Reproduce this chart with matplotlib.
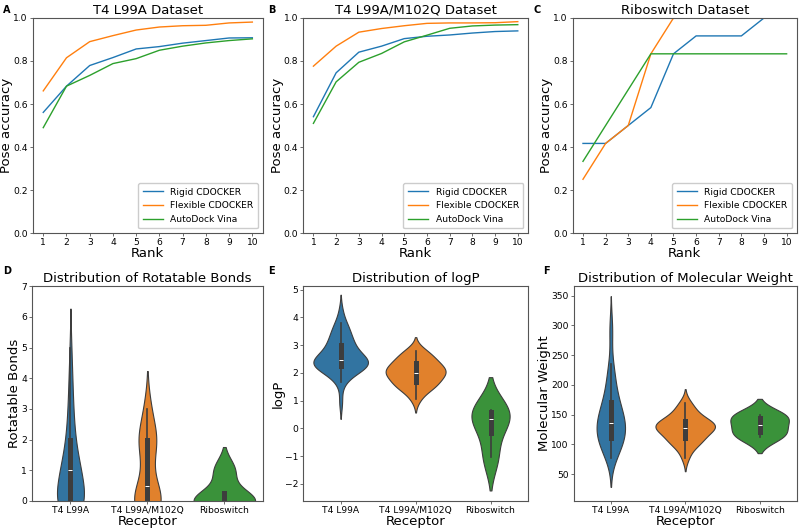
import matplotlib
matplotlib.use('Agg')
import matplotlib.pyplot as plt
import pandas as pd
import seaborn as sns

ranks = [1, 2, 3, 4, 5, 6, 7, 8, 9, 10]
methods = ['Rigid CDOCKER', 'Flexible CDOCKER', 'AutoDock Vina']
receptors = ['T4 L99A', 'T4 L99A/M102Q', 'Riboswitch']

# pose accuracy per rank
l99a_rigid = [0.561, 0.683, 0.779, 0.816, 0.856, 0.867, 0.883, 0.895, 0.907, 0.908]
l99a_flex = [0.661, 0.815, 0.890, 0.918, 0.944, 0.958, 0.964, 0.966, 0.977, 0.981]
l99a_vina = [0.490, 0.683, 0.733, 0.788, 0.811, 0.850, 0.869, 0.884, 0.895, 0.903]

m102q_rigid = [0.541, 0.745, 0.841, 0.869, 0.904, 0.915, 0.921, 0.930, 0.937, 0.940]
m102q_flex = [0.776, 0.869, 0.934, 0.951, 0.964, 0.975, 0.977, 0.977, 0.978, 0.983]
m102q_vina = [0.510, 0.703, 0.794, 0.835, 0.889, 0.920, 0.952, 0.963, 0.967, 0.969]

ribo_rigid = [5/12, 5/12, 6/12, 7/12, 10/12, 11/12, 11/12, 11/12, 1.0, 1.0]
ribo_flex = [3/12, 5/12, 6/12, 10/12, 1.0, 1.0, 1.0, 1.0, 1.0, 1.0]
ribo_vina = [4/12, 6/12, 8/12, 10/12, 10/12, 10/12, 10/12, 10/12, 10/12, 10/12]

# ligand properties
rotb_l99a = [0]*18 + [1]*11 + [2, 2, 2, 2, 2, 3, 3, 3, 4, 4, 5]
rotb_m102q = [0]*10 + [1]*2 + [2]*6 + [3]*2
rotb_ribo = [0, 0, 0, 1]

logp_l99a = [0.95, 1.65, 1.8, 1.95, 2.05, 2.1, 2.15, 2.18, 2.2, 2.22, 2.25, 2.28, 2.3, 2.32,
             2.35, 2.38, 2.4, 2.4, 2.42, 2.45, 2.48, 2.5, 2.55, 2.6, 2.65, 2.7, 2.8, 2.9,
             2.95, 3.0, 3.05, 3.1, 3.2, 3.3, 3.4, 3.5, 3.6, 3.7, 3.8, 4.2]
logp_m102q = [1.05, 1.3, 1.45, 1.5, 1.55, 1.6, 1.65, 1.75, 1.85, 1.9, 1.95, 2.0, 2.0, 2.05,
              2.1, 2.15, 2.2, 2.25, 2.35, 2.4, 2.45, 2.55, 2.65, 2.75, 2.8]
logp_ribo = [-1.05, 0.12, 0.58, 0.65]

mw_l99a = [78, 82, 88, 93, 97, 100, 103, 105, 108, 110, 112, 115, 118, 122, 125, 128, 131,
           133, 135, 135, 137, 140, 143, 146, 150, 154, 158, 162, 166, 170, 174, 180, 188,
           196, 205, 215, 225, 235, 285, 300]
mw_m102q = [78, 92, 100, 104, 107, 109, 110, 116, 122, 125, 127, 128, 128, 130, 131, 133,
            134, 136, 140, 142, 145, 150, 157, 163, 170]
mw_ribo = [112, 123, 143, 150]

line_colors = ['#1f77b4', '#ff7f0e', '#2ca02c']
spine_col = '#555555'


def long_table(a, b, c):
    rows = [(receptors[0], v) for v in a] + [(receptors[1], v) for v in b] + \
           [(receptors[2], v) for v in c]
    return pd.DataFrame(rows, columns=['Receptor', 'value'])


def style_axes(ax):
    ax.tick_params(labelsize=6.6, length=2, width=0.6, pad=1.5, color=spine_col)
    for s in ax.spines.values():
        s.set_linewidth(0.8)
        s.set_color(spine_col)


fig = plt.figure(figsize=(8, 5.29), dpi=100)

top_axes = [fig.add_axes([0.041, 0.5595, 0.2875, 0.4065]),
            fig.add_axes([0.379, 0.5595, 0.281, 0.4065]),
            fig.add_axes([0.716, 0.5595, 0.280, 0.4065])]
bot_axes = [fig.add_axes([0.040, 0.053, 0.2885, 0.406]),
            fig.add_axes([0.379, 0.053, 0.281, 0.406]),
            fig.add_axes([0.717, 0.053, 0.279, 0.406])]

line_sets = [(l99a_rigid, l99a_flex, l99a_vina),
             (m102q_rigid, m102q_flex, m102q_vina),
             (ribo_rigid, ribo_flex, ribo_vina)]
line_titles = ['T4 L99A Dataset', 'T4 L99A/M102Q Dataset', 'Riboswitch Dataset']

for ax, series, title in zip(top_axes, line_sets, line_titles):
    for vals, name, col in zip(series, methods, line_colors):
        ax.plot(ranks, vals, color=col, lw=1, label=name)
    ax.set_ylim(0, 1.0)
    ax.set_xticks(ranks)
    ax.set_title(title, fontsize=9.5, pad=3)
    ax.set_xlabel('Rank', fontsize=9.5, labelpad=0)
    ax.set_ylabel('Pose accuracy', fontsize=9.5, labelpad=0)
    style_axes(ax)
    ax.legend(loc='lower right', fontsize=6.6, handlelength=2.2, borderpad=0.5,
              labelspacing=0.5, framealpha=1, edgecolor='#cccccc')

violin_sets = [(rotb_l99a, rotb_m102q, rotb_ribo),
               (logp_l99a, logp_m102q, logp_ribo),
               (mw_l99a, mw_m102q, mw_ribo)]
violin_titles = ['Distribution of Rotatable Bonds', 'Distribution of logP',
                 'Distribution of Molecular Weight']
violin_ylabels = ['Rotatable Bonds', 'logP', 'Molecular Weight']
violin_limits = [(0, 7), (-2.62, 5.12), (5, 366)]

for ax, sets, title, ylab, lim in zip(bot_axes, violin_sets, violin_titles,
                                      violin_ylabels, violin_limits):
    df = long_table(*sets)
    sns.violinplot(data=df, x='Receptor', y='value', hue='Receptor', order=receptors,
                   palette=line_colors, legend=False, linewidth=0.8, common_norm=True,
                   ax=ax)
    ax.set_ylim(*lim)
    ax.set_title(title, fontsize=9.5, pad=3)
    ax.set_xlabel('Receptor', fontsize=9.5, labelpad=0)
    ax.set_ylabel(ylab, fontsize=9.5, labelpad=0)
    style_axes(ax)

for letter, x, y in [('A', 0.004, 0.982), ('B', 0.335, 0.982), ('C', 0.667, 0.982),
                     ('D', 0.004, 0.487), ('E', 0.335, 0.487), ('F', 0.679, 0.487)]:
    fig.text(x, y, letter, fontsize=7, fontweight='bold', va='center')

fig.savefig('out.png', dpi=100)
